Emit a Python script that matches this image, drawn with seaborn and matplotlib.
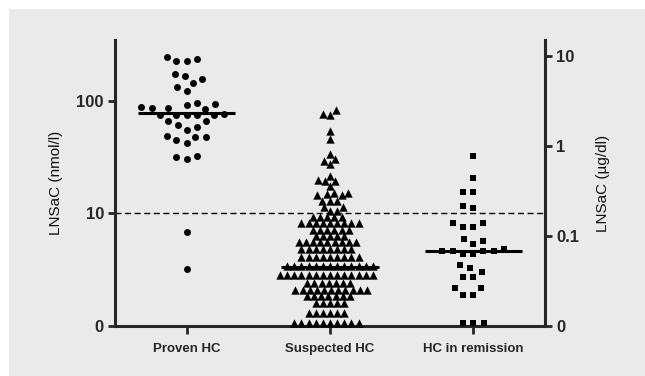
import numpy as np
import pandas as pd
import matplotlib.pyplot as plt
from matplotlib.patches import Rectangle
import seaborn as sns

sns.set_style("ticks")
plt.rcParams["font.family"] = ["Liberation Sans", "DejaVu Sans"]

# ── Data ─────────────────────────────────────────────────────────────────────
groups = ["Proven HC", "Suspected HC", "HC in remission"]

proven_hc = [244, 224, 224, 234, 173, 164, 155, 143, 133, 121,
             96, 92, 86, 84, 86, 87, 93,
             74, 74, 76, 75, 75, 74,
             66, 61, 65, 55, 58,
             47, 44, 42, 47, 48,
             32, 30, 31,
             6.7, 3.1]

suspected_hc = [82, 76, 75,
                53, 45, 33.4, 30, 29, 27,
                21, 19.5, 19, 19, 17.2,
                14.8, 14.8, 14.5, 14.3, 14.3,
                12.8, 12.8, 12.8,
                11.2, 11.2, 10.4, 10.4,
                9.1, 9.1, 9.1, 9.1, 9.1,
                8.0, 8.0, 8.0, 8.0, 8.0, 8.0, 8.0, 8.0, 8.0,
                7.0, 7.0, 7.0, 7.0, 7.0, 7.0,
                6.15, 6.15, 6.15, 6.15, 6.15,
                5.4, 5.4, 5.4, 5.4, 5.4, 5.4, 5.4, 5.4, 5.4,
                4.74, 4.74, 4.74, 4.74, 4.74, 4.74, 4.74, 4.74,
                3.97, 3.97, 3.97, 3.97, 3.97, 3.97, 3.97, 3.97, 3.97,
                3.3, 3.3, 3.3, 3.3, 3.3, 3.3, 3.3, 3.3, 3.3, 3.3, 3.3, 3.3, 3.3,
                2.74, 2.74, 2.74, 2.74, 2.74, 2.74, 2.74,
                2.74, 2.74, 2.74, 2.74, 2.74, 2.74, 2.74,
                2.34, 2.34, 2.34, 2.34, 2.34, 2.34, 2.34,
                2.05, 2.05, 2.05, 2.05, 2.05, 2.05, 2.05, 2.05, 2.05, 2.05, 2.05,
                1.80, 1.80, 1.80, 1.80, 1.80, 1.80, 1.80,
                1.57, 1.57, 1.57, 1.57, 1.57,
                1.28, 1.28, 1.28, 1.28, 1.28, 1.28,
                0, 0, 0, 0, 0, 0, 0, 0, 0, 0]

remission_hc = [31.9, 20.2, 15.2, 15.2, 11.5, 11.0,
                8.0, 7.5, 7.5, 8.0, 5.6, 5.25, 5.8,
                4.74, 4.49, 4.49, 4.22, 4.22, 4.49, 4.49,
                3.4, 2.97, 3.2, 2.64, 2.64, 2.11, 2.11, 1.85, 1.85,
                0, 0, 0]

medians = [78, 3.25, 4.5]
cutoff = 10
left_ticks = [0, 10, 100]
right_ticks = [0, 0.1, 1, 10]

# ── Build long table; zeros sit on the bottom of the log axis ─────────────────
left_floor = 0.97
zero_shown = 1.04
values = {"Proven HC": proven_hc, "Suspected HC": suspected_hc,
          "HC in remission": remission_hc}
df = pd.concat([pd.DataFrame({"group": g, "LNSaC": v}) for g, v in values.items()],
               ignore_index=True)
df["shown"] = np.where(df["LNSaC"] <= 0, zero_shown, df["LNSaC"])

# ── Figure ────────────────────────────────────────────────────────────────────
fig = plt.figure(figsize=(6.45, 3.76), dpi=100, facecolor="white")
fig.add_artist(Rectangle((9 / 645, 0), 1, 1 - 9 / 376, transform=fig.transFigure,
                         facecolor="#eaeaea", edgecolor="none", zorder=-5))
ax = fig.add_axes([115 / 645, 50 / 376, 430 / 645, 286 / 376])
ax.set_facecolor((0, 0, 0, 0))

# marker, size used for the swarm spacing (pt), size actually drawn (pt)
markers = {"Proven HC": ("o", 7.2, 5.0), "Suspected HC": ("^", 4.9, 6.0),
           "HC in remission": ("s", 7.2, 5.0)}
swarms = {}
for g in groups:
    m, swarm_sz, _ = markers[g]
    n_before = len(ax.collections)
    sns.swarmplot(data=df[df["group"] == g], x="group", y="shown", order=groups,
                  marker=m, size=swarm_sz, color="black", linewidth=0,
                  log_scale=True, ax=ax, zorder=3)
    for c in ax.collections[n_before:]:
        if len(c.get_offsets()) == len(values[g]):
            c.set_clip_on(False)
            swarms[g] = c
        else:
            c.remove()

ax.hlines(medians, np.arange(len(groups)) - 0.34, np.arange(len(groups)) + 0.34,
          color="black", linewidth=2.2, zorder=4)
ax.axhline(cutoff, color="black", linewidth=1.0, linestyle=(0, (4.3, 2.6)), zorder=2)

ax.set_xlim(-0.5, 2.5)
ax.set_ylim(left_floor, 347)
ax.set_yticks([left_floor if t == 0 else t for t in left_ticks])
ax.set_yticklabels([str(t) for t in left_ticks])
ax.yaxis.set_minor_locator(plt.NullLocator())
ax.set_xlabel("")
ax.set_ylabel("LNSaC (nmol/l)", fontsize=11, color="#111111", labelpad=10)
ax.tick_params(axis="y", length=5, width=2, labelsize=12, pad=3)
ax.tick_params(axis="x", length=6, width=2, labelsize=9.5, pad=6)
for lab in ax.get_yticklabels() + ax.get_xticklabels():
    lab.set_fontweight("bold")
ax.spines["top"].set_visible(False)
ax.spines["right"].set_visible(False)
ax.spines["left"].set_linewidth(2.2)
ax.spines["bottom"].set_linewidth(2.2)

# ── Right axis (µg/dl) ───────────────────────────────────────────────────────
ax2 = ax.twinx()
ax2.set_yscale("log")
ax2.set_ylim(0.01, 15.06)
ax2.set_yticks([0.01 if t == 0 else t for t in right_ticks])
ax2.set_yticklabels([f"{t:g}" for t in right_ticks])
ax2.yaxis.set_minor_locator(plt.NullLocator())
ax2.set_ylabel("LNSaC (µg/dl)", fontsize=11, color="#111111", rotation=90, labelpad=12)
ax2.tick_params(axis="y", length=5, width=2, labelsize=12, pad=3)
for lab in ax2.get_yticklabels():
    lab.set_fontweight("bold")
for s in ["top", "left", "bottom"]:
    ax2.spines[s].set_visible(False)
ax2.spines["right"].set_linewidth(2.2)

# lay the swarms out once, then keep that layout and draw the real marker sizes
fig.canvas.draw()
for g, c in swarms.items():
    c.__dict__.pop("draw", None)
    c.set_sizes([markers[g][2] ** 2])

fig.savefig("out.png", dpi=100)
